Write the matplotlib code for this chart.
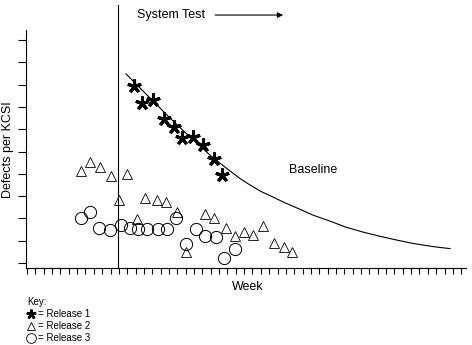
import numpy as np
import matplotlib.pyplot as plt
from matplotlib.lines import Line2D

plt.rcParams["font.family"] = ["Liberation Sans", "DejaVu Sans"]

# Release 1 (stars)
weeks_r1 = [12.85, 13.80, 15.05, 16.44, 17.57, 18.56, 19.84, 21.04, 22.36, 23.35]
defects_r1 = [7.95, 7.19, 7.31, 6.46, 6.11, 5.62, 5.64, 5.29, 4.68, 3.96]

# Release 2 (triangles)
weeks_r2 = [6.43, 7.54, 8.71, 10.02, 12.01, 11.05, 13.21, 14.17, 15.60, 16.68, 17.92,
            19.00, 21.28, 22.40, 23.80, 24.91, 25.99, 27.10, 28.30, 29.62, 30.78, 31.69]
defects_r2 = [4.13, 4.54, 4.32, 3.90, 3.99, 2.83, 1.97, 2.93, 2.83, 2.72, 2.27,
              0.51, 2.20, 2.00, 1.58, 1.21, 1.38, 1.24, 1.66, 0.88, 0.70, 0.48]

# Release 3 (circles)
weeks_r3 = [6.47, 7.58, 8.66, 9.94, 11.22, 12.34, 13.33, 14.34, 15.65, 16.73, 17.84,
            19.01, 20.20, 21.28, 22.60, 23.59, 24.91]
defects_r3 = [2.00, 2.30, 1.58, 1.48, 1.70, 1.58, 1.51, 1.52, 1.51, 1.51, 2.03,
              0.84, 1.52, 1.21, 1.18, 0.24, 0.61]

# Baseline curve
weeks_base = [11.86, 14.73, 17.13, 19.52, 20.72, 21.92, 23.11, 24.31, 25.51, 26.71,
              28.02, 29.46, 30.90, 32.34, 34.25, 36.29, 38.20, 40.24, 42.28, 44.31,
              46.23, 48.26, 49.46, 50.66]
defects_base = [8.48, 7.40, 6.50, 5.65, 5.25, 4.84, 4.48, 4.13, 3.79, 3.50,
                3.21, 2.96, 2.70, 2.47, 2.15, 1.88, 1.61, 1.39, 1.20, 1.03,
                0.88, 0.76, 0.70, 0.65]

system_test_week = 10.9

fig = plt.figure(figsize=(4.72, 3.45), dpi=100)
ax = fig.add_axes([26/472, 1 - 268/345, 440/472, 238/345])

ax.plot(weeks_base, defects_base, color='black', linewidth=0.8)
ax.plot(weeks_r1, defects_r1, linestyle='none', marker=(5, 2, 0), markersize=10,
        markeredgewidth=2.2, color='black', zorder=5)
ax.plot(weeks_r2, defects_r2, linestyle='none', marker='^', markersize=6.5,
        markerfacecolor='white', markeredgecolor='black', markeredgewidth=0.6)
ax.plot(weeks_r3, defects_r3, linestyle='none', marker='o', markersize=8.8,
        markerfacecolor='none', markeredgecolor='black', markeredgewidth=0.7)

# system test start line, running above the axes
ax.plot([system_test_week, system_test_week], [-0.22, 11.57], color='black',
        linewidth=0.8, clip_on=False)

ax.text(13.2, 11.12, 'System Test', fontsize=9, va='center', ha='left')
ax.annotate('', xy=(31.0, 11.12), xytext=(22.2, 11.12),
            arrowprops=dict(arrowstyle='-|>', color='black', lw=0.8, mutation_scale=8),
            annotation_clip=False)
ax.text(34.25, 4.17, 'Baseline', fontsize=9, va='center', ha='center')

ax.set_xlim(-0.12, 52.57)
ax.set_ylim(-0.22, 10.45)
ax.set_xticks(np.arange(0, 53))
ax.set_yticks(np.arange(0, 11))
ax.set_xticklabels([])
ax.set_yticklabels([])
ax.tick_params(axis='x', direction='out', length=4, width=0.8)
ax.tick_params(axis='y', direction='out', length=6, width=0.8)
for s in ['top', 'right']:
    ax.spines[s].set_visible(False)
for s in ['left', 'bottom']:
    ax.spines[s].set_linewidth(0.8)

fig.text(8/472, 1 - 150/345, 'Defects per KCSI', rotation=90, fontsize=9,
         ha='center', va='center')
fig.text(248/472, 1 - 287/345, 'Week', fontsize=9, ha='center', va='center')

# key
fig.text(27/472, 1 - 302/345, 'Key:', fontsize=7, ha='left', va='center')
key_rows = [((5, 2, 0), 7, 1.8, 'black', '= Release 1'),
            ('^', 5.5, 0.6, 'white', '= Release 2'),
            ('o', 7, 0.6, 'white', '= Release 3')]
for i, (mk, ms, mew, fc, lab) in enumerate(key_rows):
    yy = 1 - (314 + 12*i)/345
    fig.add_artist(Line2D([31/472], [yy], transform=fig.transFigure, marker=mk,
                          markersize=ms, markeredgewidth=mew, markerfacecolor=fc,
                          markeredgecolor='black', linestyle='none'))
    fig.text(38/472, yy, lab, fontsize=7, ha='left', va='center')

fig.savefig('out.png', dpi=100)
